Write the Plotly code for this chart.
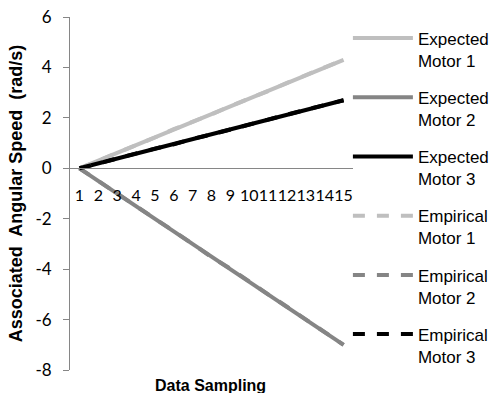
import plotly.graph_objects as go

samples = list(range(1, 16))
x_tick_labels = [str(i) for i in samples]

expected_m1 = [0, 0.31, 0.61, 0.92, 1.23, 1.54, 1.84, 2.15, 2.46, 2.76, 3.07, 3.38, 3.69, 3.99, 4.30]
expected_m2 = [0, -0.50, -1.00, -1.50, -2.00, -2.50, -3.00, -3.50, -4.00, -4.50, -5.00, -5.50, -6.00, -6.50, -7.00]
expected_m3 = [0, 0.19, 0.39, 0.58, 0.77, 0.96, 1.16, 1.35, 1.54, 1.74, 1.93, 2.12, 2.31, 2.51, 2.70]
empirical_m1 = [0, 0.30, 0.62, 0.92, 1.22, 1.55, 1.84, 2.14, 2.47, 2.76, 3.06, 3.39, 3.69, 3.98, 4.30]
empirical_m2 = [0, -0.51, -0.99, -1.51, -2.00, -2.49, -3.01, -3.52, -3.98, -4.51, -5.00, -5.49, -6.01, -6.50, -7.00]
empirical_m3 = [0, 0.20, 0.38, 0.58, 0.78, 0.95, 1.17, 1.34, 1.55, 1.73, 1.93, 2.13, 2.30, 2.51, 2.70]

y_ticks = [-8, -6, -4, -2, 0, 2, 4, 6]
y_tick_labels = ["-8", "-6", "-4", "-2", "0", "2", "4", "6"]

series = [
    ("Expected<br>Motor 1", expected_m1, "#BFBFBF", "solid"),
    ("Expected<br>Motor 2", expected_m2, "#858585", "solid"),
    ("Expected<br>Motor 3", expected_m3, "#000000", "solid"),
    ("Empirical<br>Motor 1", empirical_m1, "#BFBFBF", "dash"),
    ("Empirical<br>Motor 2", empirical_m2, "#858585", "dash"),
    ("Empirical<br>Motor 3", empirical_m3, "#000000", "dash"),
]

fig = go.Figure()
for i, (name, vals, color, dash) in enumerate(series):
    fig.add_trace(go.Scatter(
        x=samples, y=vals, mode="lines", name=name, legendgroup=f"g{i}",
        line=dict(color=color, width=4, dash=dash),
    ))

fig.update_layout(
    width=497, height=393,
    margin=dict(l=70, r=144, t=17, b=23, autoexpand=False),
    paper_bgcolor="white", plot_bgcolor="white",
    font=dict(family="Lato", size=15, color="#000000"),
    showlegend=True,
    legend=dict(
        x=0.982, xanchor="left", y=0.99, yanchor="top",
        font=dict(family="Liberation Sans, Arial", size=17, color="#000000"),
        valign="top", itemwidth=60, tracegroupgap=12,
        bgcolor="rgba(0,0,0,0)", maxheight=800,
    ),
    xaxis=dict(
        range=[0.5, 15.5], tickvals=samples, ticktext=x_tick_labels,
        showline=True, linecolor="#868686", linewidth=1,
        ticks="outside", ticklen=13, tickcolor="rgba(0,0,0,0)",
        showgrid=False, zeroline=False, tickangle=0,
        anchor="free", position=8 / 14,
        tickfont=dict(family="Lato", size=16),
    ),
    yaxis=dict(
        range=[-8, 6], tickvals=y_ticks, ticktext=y_tick_labels,
        showline=True, linecolor="#868686", linewidth=1,
        ticks="outside", ticklen=6, tickcolor="#868686",
        ticklabelstandoff=8,
        showgrid=False, zeroline=False,
        tickfont=dict(family="Lato", size=17),
        title=dict(
            text="<b>Associated\u00a0 Angular Speed\u00a0 (rad/s)</b>",
            font=dict(family="Liberation Sans, Arial", size=18, color="#000000"),
            standoff=8,
        ),
    ),
    annotations=[dict(
        text="<b>Data Sampling</b>", xref="paper", yref="paper",
        x=0.495, y=0, yanchor="top", yshift=-5, showarrow=False,
        font=dict(family="Liberation Sans, Arial", size=16, color="#000000"),
    )],
)

fig.write_html("out.html")
